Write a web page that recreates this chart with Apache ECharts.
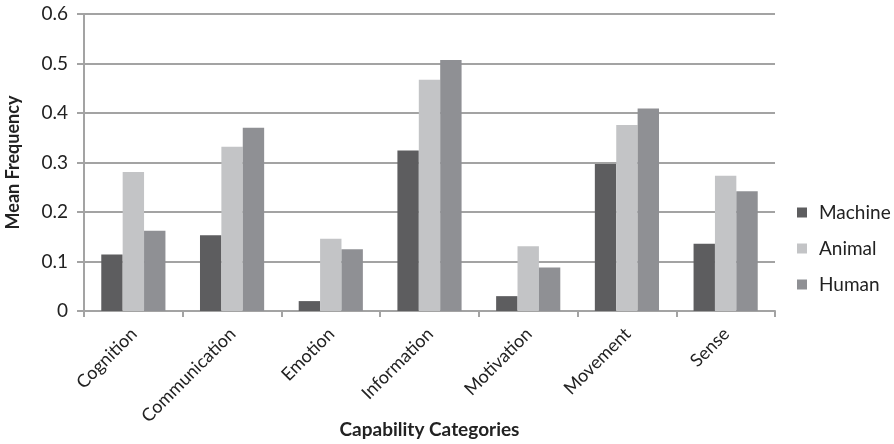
<!DOCTYPE html>
<html>
<head>
<meta charset="utf-8">
<script src="https://cdn.jsdelivr.net/npm/echarts@6/dist/echarts.min.js"></script>
<style>
  html, body { margin: 0; padding: 0; background: #fff; }
  #chart { width: 894px; height: 444px; }
</style>
</head>
<body>
<div id="chart"></div>
<script>
// values
const categories = ['Cognition', 'Communication', 'Emotion', 'Information', 'Motivation', 'Movement', 'Sense'];
const machine = [0.114, 0.153, 0.020, 0.324, 0.030, 0.297, 0.136];
const animal  = [0.281, 0.332, 0.146, 0.467, 0.131, 0.376, 0.273];
const human   = [0.162, 0.370, 0.125, 0.507, 0.088, 0.409, 0.242];
const yTicks  = [0, 0.1, 0.2, 0.3, 0.4, 0.5, 0.6];

const FONT = 'Lato, "Open Sans", sans-serif';
const GRID_GRAY = '#a3a3a3';
const TEXT = '#222';

const chart = echarts.init(document.getElementById('chart'), null, { renderer: 'canvas' });

function bar(name, data, color) {
    return {
        name: name,
        type: 'bar',
        data: data,
        barGap: '0%',
        barCategoryGap: '35%',
        itemStyle: { color: color },
        emphasis: { disabled: true }
    };
}

chart.setOption({
    animation: false,
    textStyle: { fontFamily: FONT },
    grid: { left: 84, right: 119, top: 14, bottom: 133, containLabel: false, outerBoundsMode: 'none' },
    legend: {
        orient: 'vertical',
        left: 792,
        top: 198,
        itemWidth: 10,
        itemHeight: 10,
        itemGap: 17,
        icon: 'rect',
        textStyle: { fontFamily: FONT, fontSize: 19, color: TEXT, padding: [0, 0, 0, 7] },
        data: ['Machine', 'Animal', 'Human']
    },
    xAxis: {
        type: 'category',
        data: categories,
        name: 'Capability Categories',
        nameLocation: 'middle',
        nameGap: 109,
        nameMoveOverlap: false,
        nameTextStyle: { fontFamily: FONT, fontSize: 19, fontWeight: 'bold', color: TEXT },
        axisLine: { lineStyle: { color: GRID_GRAY, width: 2 } },
        axisTick: { show: true, length: 6, alignWithLabel: false, lineStyle: { color: GRID_GRAY, width: 2 } },
        axisLabel: { rotate: 45, fontSize: 18, color: TEXT, margin: 8, interval: 0, verticalAlign: 'top', padding: [0, 8, 0, 0] },
        splitLine: { show: false }
    },
    yAxis: {
        type: 'value',
        min: yTicks[0],
        max: yTicks[yTicks.length - 1],
        interval: 0.1,
        name: 'Mean Frequency',
        nameLocation: 'middle',
        nameGap: 62,
        nameMoveOverlap: false,
        nameTextStyle: { fontFamily: FONT, fontSize: 18, fontWeight: 'bold', color: TEXT },
        axisLine: { show: true, lineStyle: { color: GRID_GRAY, width: 2 } },
        axisTick: { show: true, length: 7, lineStyle: { color: GRID_GRAY, width: 2 } },
        axisLabel: { fontSize: 19, color: TEXT, margin: 16, formatter: v => (v === 0 ? '0' : v.toFixed(1)) },
        splitLine: { show: true, lineStyle: { color: GRID_GRAY, width: 2 } }
    },
    series: [
        bar('Machine', machine, '#5d5d5f'),
        bar('Animal', animal, '#c3c4c6'),
        bar('Human', human, '#8f9094')
    ]
});
</script>
</body>
</html>
